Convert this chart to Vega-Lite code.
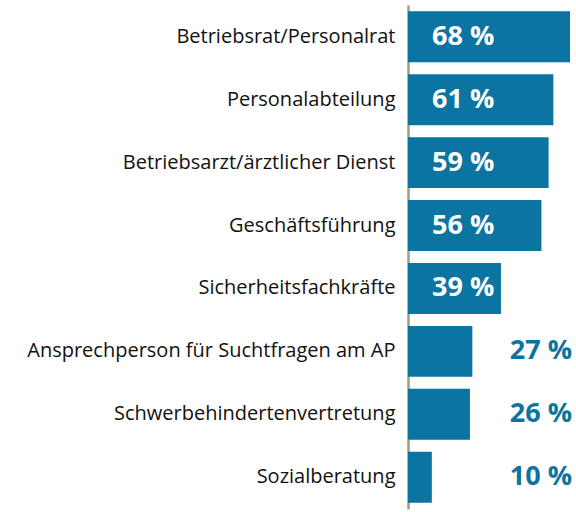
{
  "$schema": "https://vega.github.io/schema/vega-lite/v6.json",
  "autosize": {"type": "none"},
  "width": 168,
  "height": 504,
  "padding": {"left": 408, "top": 5, "right": 0, "bottom": 3},
  "background": "white",
  "config": {"view": {"stroke": null}},
  "data": {"values": [
    {"kategorie": "Betriebsrat/Personalrat", "wert": 68, "label": "68 %"},
    {"kategorie": "Personalabteilung", "wert": 61, "label": "61 %"},
    {"kategorie": "Betriebsarzt/ärztlicher Dienst", "wert": 59, "label": "59 %"},
    {"kategorie": "Geschäftsführung", "wert": 56, "label": "56 %"},
    {"kategorie": "Sicherheitsfachkräfte", "wert": 39, "label": "39 %"},
    {"kategorie": "Ansprechperson für Suchtfragen am AP", "wert": 27, "label": "27 %"},
    {"kategorie": "Schwerbehindertenvertretung", "wert": 26, "label": "26 %"},
    {"kategorie": "Sozialberatung", "wert": 10, "label": "10 %"}
  ]},
  "encoding": {
    "y": {"field": "kategorie", "type": "nominal", "sort": null,
      "scale": {"paddingInner": 0.19, "paddingOuter": 0.1},
      "axis": {"title": null, "ticks": false, "domain": true, "domainColor": "#a39d84", "domainWidth": 2.5,
        "labelFont": "Open Sans", "labelFontSize": 20, "labelColor": "#111111", "labelPadding": 13, "labelLimit": 420}}
  },
  "layer": [
    {"mark": {"type": "bar", "color": "#0b74a0"},
     "encoding": {"x": {"field": "wert", "type": "quantitative", "scale": {"domain": [0, 70.5], "nice": false}, "axis": null}}},
    {"transform": [{"filter": "datum.wert >= 30"}],
     "mark": {"type": "text", "align": "left", "baseline": "middle", "dx": 24, "font": "Open Sans", "fontWeight": "bold", "fontSize": 27, "color": "white"},
     "encoding": {"x": {"datum": 0, "type": "quantitative"}, "text": {"field": "label", "type": "nominal"}}},
    {"transform": [{"filter": "datum.wert < 30"}],
     "mark": {"type": "text", "align": "right", "baseline": "middle", "dx": -4, "font": "Open Sans", "fontWeight": "bold", "fontSize": 27, "color": "#0b74a0"},
     "encoding": {"x": {"datum": 70.5, "type": "quantitative"}, "text": {"field": "label", "type": "nominal"}}}
  ]
}
